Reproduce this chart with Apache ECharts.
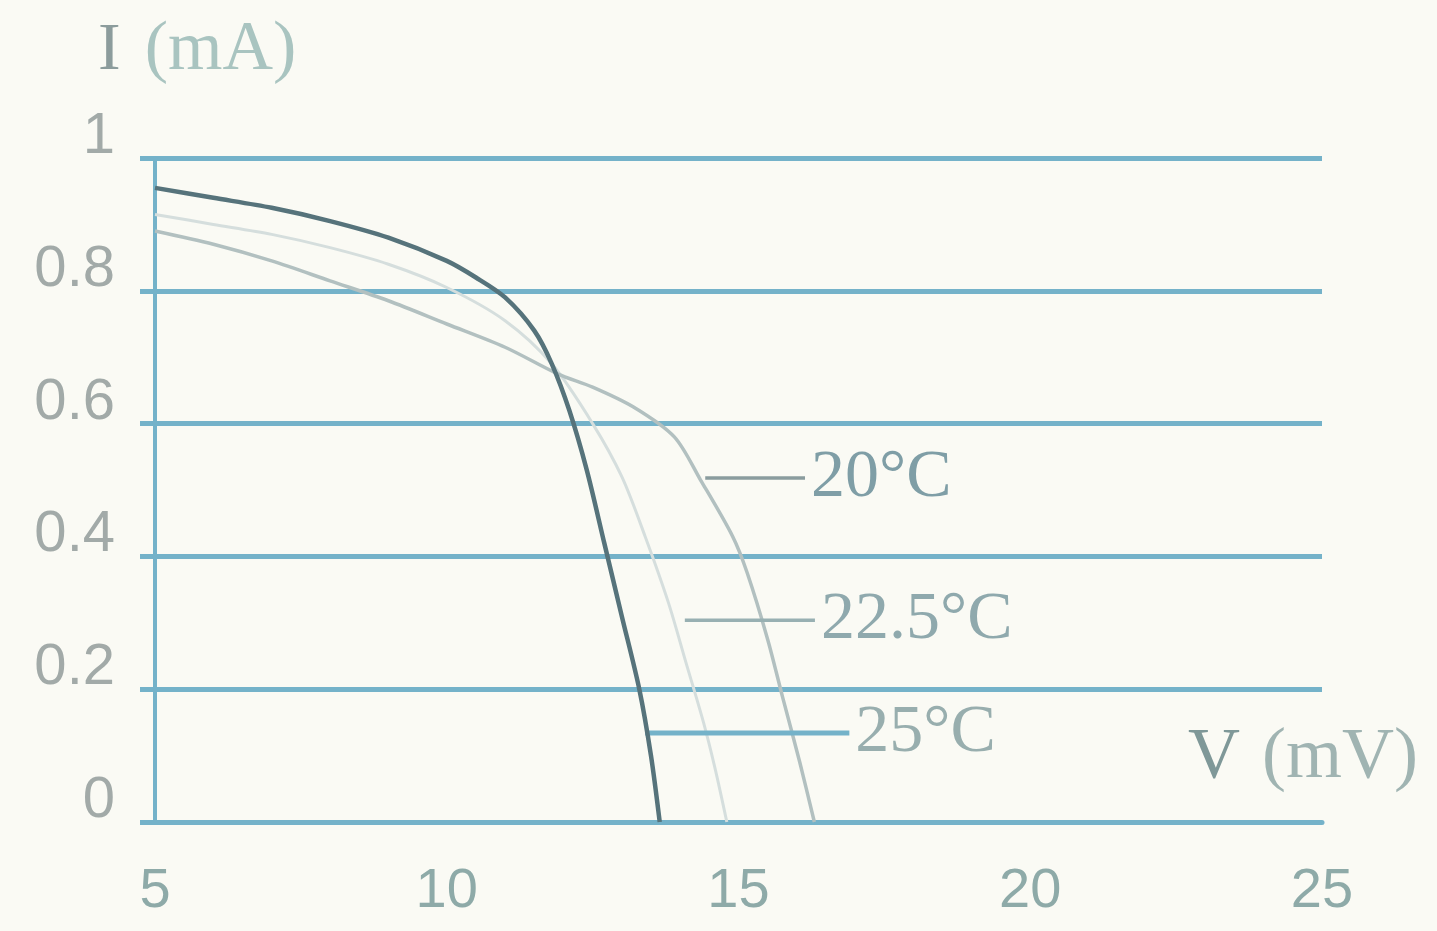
<!DOCTYPE html>
<html>
<head>
<meta charset="utf-8">
<style>
html,body{margin:0;padding:0;background:#fafaf4;}
#chart{width:1437px;height:931px;}
</style>
<script src="https://cdn.jsdelivr.net/npm/echarts@6/dist/echarts.min.js"></script>
</head>
<body>
<div id="chart"></div>
<script>
// ---- data ----
const xTicks = ['5', '10', '15', '20', '25'];
const yTicks = ['0', '0.2', '0.4', '0.6', '0.8', '1'];

const curveNames = ['20°C', '22.5°C', '25°C'];

const v20 = [5, 6, 7, 8, 9, 10, 11, 11.9, 12.5, 13.2, 13.9, 14.35, 14.9, 15.15, 15.5, 15.75, 16.05, 16.3];
const i20 = [0.89, 0.87, 0.845, 0.815, 0.785, 0.75, 0.715, 0.675, 0.655, 0.625, 0.58, 0.515, 0.43, 0.375, 0.275, 0.19, 0.09, 0];

const v225 = [5, 6, 7, 8, 9, 10, 11, 11.8, 12.5, 13.0, 13.4, 13.8, 14.1, 14.4, 14.6, 14.8];
const i225 = [0.915, 0.9, 0.885, 0.865, 0.84, 0.805, 0.755, 0.69, 0.6, 0.52, 0.43, 0.33, 0.24, 0.15, 0.08, 0];

const v25 = [5, 6, 7, 8, 9, 10, 10.5, 11, 11.5, 11.8, 12.1, 12.4, 12.7, 13.0, 13.3, 13.5, 13.65];
const i25 = [0.955, 0.94, 0.925, 0.905, 0.88, 0.845, 0.82, 0.79, 0.74, 0.69, 0.62, 0.53, 0.42, 0.31, 0.2, 0.1, 0];

// leader lines for the curve labels: [vStart, vEnd, I]
const lead20 = [14.43, 16.14, 0.518];
const lead225 = [14.08, 16.31, 0.304];
const lead25 = [13.4, 16.9, 0.134];

// ---- build ----
const zip = (xs, ys) => xs.map((x, k) => [x, ys[k]]);
const gridBlue = '#74b2c9';
function leader(name, l, color, width, textColor) {
  return {
    type: 'line', name: name + '-lead', silent: true, symbol: 'none',
    lineStyle: { color: color, width: width },
    data: [[l[0], l[2]], [l[1], l[2]]],
    endLabel: {
      show: true, formatter: name, distance: 6,
      fontFamily: 'Liberation Serif', fontSize: 68, color: textColor
    },
    z: 3
  };
}

const chart = echarts.init(document.getElementById('chart'), null, { renderer: 'canvas' });
chart.setOption({
  backgroundColor: '#fafaf4',
  animation: false,
  grid: { left: 155, right: 115, top: 158, bottom: 109, containLabel: false },
  xAxis: {
    type: 'value', min: 5, max: 25, interval: 5,
    axisLine: { show: true, lineStyle: { color: gridBlue, width: 5 } },
    axisTick: { show: false },
    splitLine: { show: false },
    axisLabel: {
      margin: 42, fontFamily: 'Liberation Sans', fontSize: 56, color: '#8eaaa8',
      formatter: v => xTicks[Math.round((v - 5) / 5)]
    }
  },
  yAxis: {
    type: 'value', min: 0, max: 1, interval: 0.2,
    axisLine: { show: true, onZero: false, lineStyle: { color: gridBlue, width: 4 } },
    axisTick: { show: true, length: 15, lineStyle: { color: gridBlue, width: 5 } },
    splitLine: { show: true, lineStyle: { color: gridBlue, width: 5 } },
    axisLabel: {
      margin: 40, fontFamily: 'Liberation Sans', fontSize: 58, color: '#a2aaa8',
      verticalAlign: 'bottom', lineHeight: 42,
      formatter: v => yTicks[Math.round(v * 5)]
    }
  },
  graphic: [
    {
      type: 'text', left: 98, top: 16,
      style: {
        text: '{a|I}{b|(mA)}',
        rich: {
          a: { fontFamily: 'Liberation Serif', fontSize: 68, fill: '#8c9c9c', padding: [0, 24, 0, 0] },
          b: { fontFamily: 'Liberation Serif', fontSize: 70, fill: '#a9c4c0' }
        }
      }
    },
    {
      type: 'text', left: 1188, top: 722,
      style: {
        text: '{a|V}{b|(mV)}',
        rich: {
          a: { fontFamily: 'Liberation Serif', fontSize: 72, fill: '#7f9898', padding: [0, 22, 0, 0] },
          b: { fontFamily: 'Liberation Serif', fontSize: 72, fill: '#a0b4b2' }
        }
      }
    }
  ],
  series: [
    {
      type: 'line', name: curveNames[1], data: zip(v225, i225), smooth: 0.3,
      symbol: 'none', lineStyle: { color: '#d5dedd', width: 3 }, z: 2
    },
    {
      type: 'line', name: curveNames[0], data: zip(v20, i20), smooth: 0.3,
      symbol: 'none', lineStyle: { color: '#b2c0c0', width: 3.5 }, z: 2
    },
    {
      type: 'line', name: curveNames[2], data: zip(v25, i25), smooth: 0.3,
      symbol: 'none', lineStyle: { color: '#56737b', width: 4.5 }, z: 4
    },
    leader(curveNames[0], lead20, '#8a9c9e', 3.5, '#7f9ea6'),
    leader(curveNames[1], lead225, '#98b0b2', 3.5, '#8fa9ad'),
    leader(curveNames[2], lead25, gridBlue, 5, '#98aeae')
  ]
});
</script>
</body>
</html>
